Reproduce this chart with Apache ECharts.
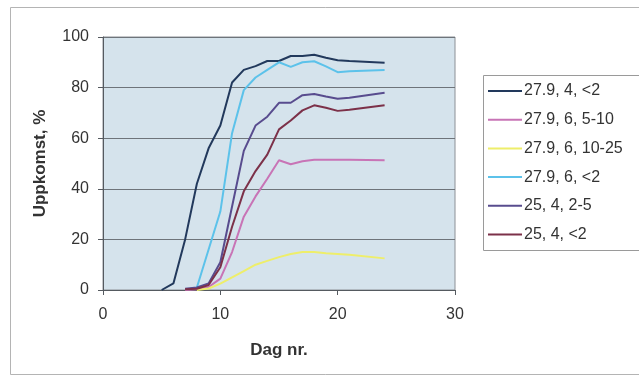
<!DOCTYPE html>
<html>
<head>
<meta charset="utf-8">
<script src="https://cdn.jsdelivr.net/npm/echarts@6/dist/echarts.min.js"></script>
<style>
  html, body { margin: 0; padding: 0; background: #ffffff; }
  #chart { width: 639px; height: 377px; }
</style>
</head>
<body>
<div id="chart"></div>
<script>
// Emergence (%) per day for each sowing treatment
const days = [5, 6, 7, 8, 9, 10, 11, 12, 13, 14, 15, 16, 17, 18, 19, 20, 21, 24];

const seriesNames = ['27.9, 4, <2', '27.9, 6, 5-10', '27.9, 6, 10-25', '27.9, 6, <2', '25, 4, 2-5', '25, 4, <2'];

const s_27_9_4_lt2   = [0, 2.6, 20, 42, 56, 65, 82, 87, 88.5, 90.5, 90.5, 92.5, 92.5, 93, 91.8, 90.8, 90.5, 89.8];
const s_27_9_6_5_10  = [null, null, 0, 0.3, 1.2, 4.5, 15, 29, 37, 44, 51.3, 49.7, 50.9, 51.5, 51.5, 51.5, 51.5, 51.3];
const s_27_9_6_10_25 = [null, null, null, 0, 0.6, 2.5, 5, 7.5, 10, 11.5, 13, 14.2, 15, 15, 14.5, 14.2, 13.9, 12.5];
const s_27_9_6_lt2   = [null, null, null, 1, 16, 31, 62, 79, 84, 87, 90, 88.2, 90, 90.4, 88.4, 86.1, 86.5, 87];
const s_25_4_2_5     = [null, null, 0.5, 1, 2.6, 11, 33, 55, 65, 68.5, 74, 74, 77, 77.5, 76.5, 75.6, 76, 78];
const s_25_4_lt2     = [null, null, 0.3, 0.5, 2, 9, 25, 39, 47, 53.5, 63.5, 67, 71, 73, 72, 70.8, 71.2, 73];

const xTicks = [0, 10, 20, 30];
const yTicks = [0, 20, 40, 60, 80, 100];

const seriesValues = [s_27_9_4_lt2, s_27_9_6_5_10, s_27_9_6_10_25, s_27_9_6_lt2, s_25_4_2_5, s_25_4_lt2];
const seriesColors = ['#22395c', '#c874b6', '#eeee6a', '#5cc2ea', '#584c8e', '#7c3149'];

function toPairs(values) {
  const out = [];
  values.forEach((v, i) => { if (v !== null) out.push([days[i], v]); });
  return out;
}

const FONT = '"Liberation Sans", Arial, sans-serif';

const chart = echarts.init(document.getElementById('chart'), null, { renderer: 'canvas' });

chart.setOption({
  animation: false,
  backgroundColor: '#ffffff',
  textStyle: { fontFamily: FONT },
  graphic: [
    {
      // outer chart frame
      type: 'rect',
      z: -10,
      shape: { x: 10.5, y: 7.5, width: 700, height: 367 },
      style: { fill: 'none', stroke: '#b4b4b4', lineWidth: 1 }
    },
    {
      // legend frame, running past the right edge
      type: 'rect',
      z: -5,
      shape: { x: 483.5, y: 75.5, width: 240, height: 175 },
      style: { fill: '#ffffff', stroke: '#9a9a9a', lineWidth: 1 }
    }
  ],
  grid: {
    left: 103, top: 37, right: 184, bottom: 87,
    show: true,
    backgroundColor: '#d5e3ec',
    borderColor: '#8c9096',
    borderWidth: 1
  },
  legend: {
    orient: 'vertical',
    left: 483,
    top: 75,
    padding: [8, 5, 7, 5],
    borderWidth: 0,
    icon: 'path://M0,0 L34,0 L34,2 L0,2 Z',
    itemWidth: 34,
    itemHeight: 16,
    itemGap: 12.7,
    selectedMode: false,
    textStyle: { fontFamily: FONT, fontSize: 16, color: '#333333', lineHeight: 16, padding: [0, 0, 0, -3] },
    data: seriesNames
  },
  xAxis: {
    type: 'value',
    min: xTicks[0],
    max: xTicks[xTicks.length - 1],
    interval: 10,
    name: 'Dag nr.',
    nameLocation: 'middle',
    nameGap: 52,
    nameTextStyle: { fontFamily: FONT, fontSize: 17, fontWeight: 'bold', color: '#333333' },
    axisLine: { lineStyle: { color: '#555a60', width: 1 } },
    axisTick: { show: true, inside: false, length: 5, lineStyle: { color: '#555a60' } },
    axisLabel: { fontFamily: FONT, fontSize: 16, color: '#333333', margin: 17 },
    splitLine: { show: false }
  },
  yAxis: {
    type: 'value',
    min: yTicks[0],
    max: yTicks[yTicks.length - 1],
    interval: 20,
    name: 'Uppkomst, %',
    nameLocation: 'middle',
    nameGap: 54,
    nameRotate: 90,
    nameTextStyle: { fontFamily: FONT, fontSize: 17, fontWeight: 'bold', color: '#333333' },
    axisLine: { show: true, lineStyle: { color: '#555a60', width: 1 } },
    axisTick: { show: true, inside: false, length: 5, lineStyle: { color: '#555a60' } },
    axisLabel: { fontFamily: FONT, fontSize: 16, color: '#333333', margin: 14 },
    splitLine: { show: true, lineStyle: { color: '#6e747a', width: 1 } }
  },
  series: seriesNames.map((name, k) => ({
    name: name,
    type: 'line',
    data: toPairs(seriesValues[k]),
    symbol: 'none',
    showSymbol: false,
    smooth: false,
    color: seriesColors[k],
    lineStyle: { color: seriesColors[k], width: 2 },
    itemStyle: { color: seriesColors[k] }
  }))
});
</script>
</body>
</html>
